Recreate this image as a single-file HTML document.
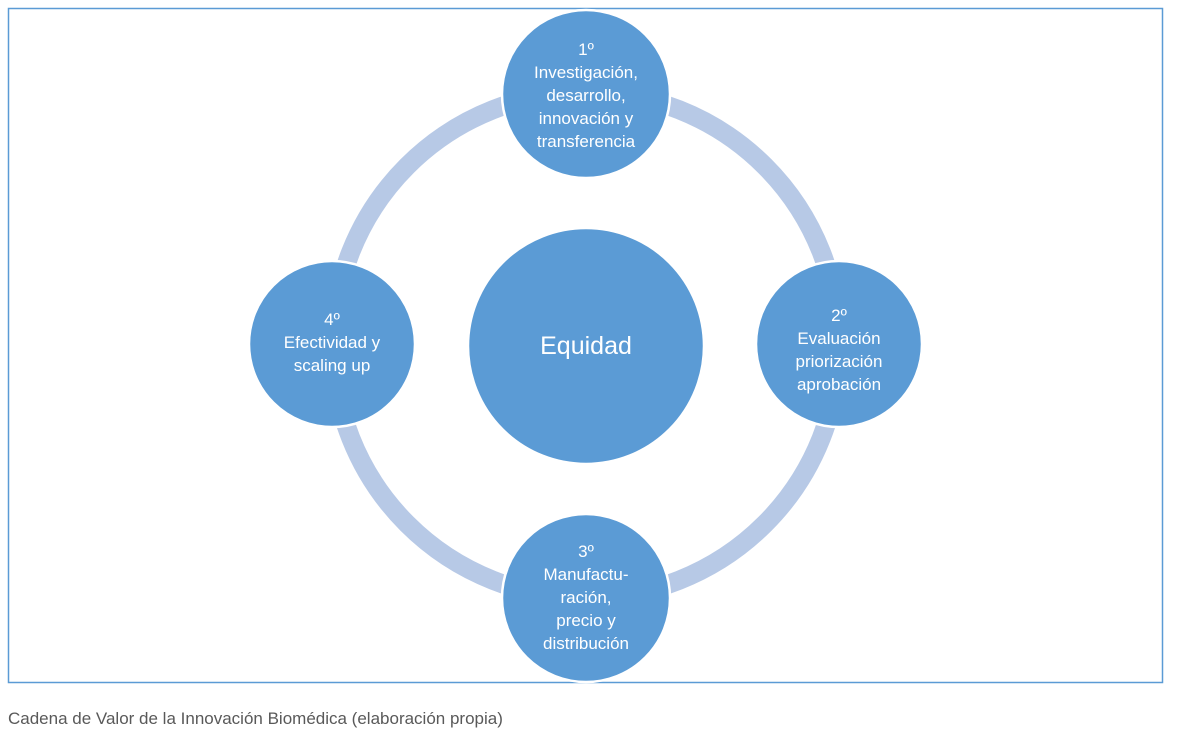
<!DOCTYPE html>
<html><head><meta charset="utf-8"><style>
body{margin:0;background:#fff;width:1187px;height:752px;overflow:hidden;font-family:"Liberation Sans",sans-serif}
.cap{position:absolute;left:8px;top:709px;font-size:17px;color:#595959}
</style></head><body>
<svg width="1187" height="700" style="position:absolute;left:0;top:0">
<rect x="8.5" y="8.5" width="1154" height="674" fill="none" stroke="#5b9bd5" stroke-width="1.5"/>
<circle cx="586" cy="345" r="253" fill="none" stroke="#b7c9e6" stroke-width="19"/>
<g fill="#5b9bd5" stroke="#fff" stroke-width="2.5">
<circle cx="586" cy="94" r="84"/>
<circle cx="839" cy="344" r="83"/>
<circle cx="586" cy="598" r="84"/>
<circle cx="332" cy="344" r="83"/>
<circle cx="586" cy="346" r="118"/>
</g>
<g fill="#fff" font-size="17" text-anchor="middle" font-family="Liberation Sans, sans-serif">
<text x="586" y="55">1º</text>
<text x="586" y="78">Investigación,</text>
<text x="586" y="101">desarrollo,</text>
<text x="586" y="124">innovación y</text>
<text x="586" y="147">transferencia</text>
<text x="839" y="321">2º</text>
<text x="839" y="344">Evaluación</text>
<text x="839" y="367">priorización</text>
<text x="839" y="390">aprobación</text>
<text x="586" y="557">3º</text>
<text x="586" y="580">Manufactu-</text>
<text x="586" y="603">ración,</text>
<text x="586" y="626">precio  y</text>
<text x="586" y="649">distribución</text>
<text x="332" y="325">4º</text>
<text x="332" y="348">Efectividad y</text>
<text x="332" y="371">scaling up</text>
<text x="586" y="354" font-size="25">Equidad</text>
</g>
</svg>
<div class="cap">Cadena de Valor de la Innovación Biomédica (elaboración propia)</div>
</body></html>
